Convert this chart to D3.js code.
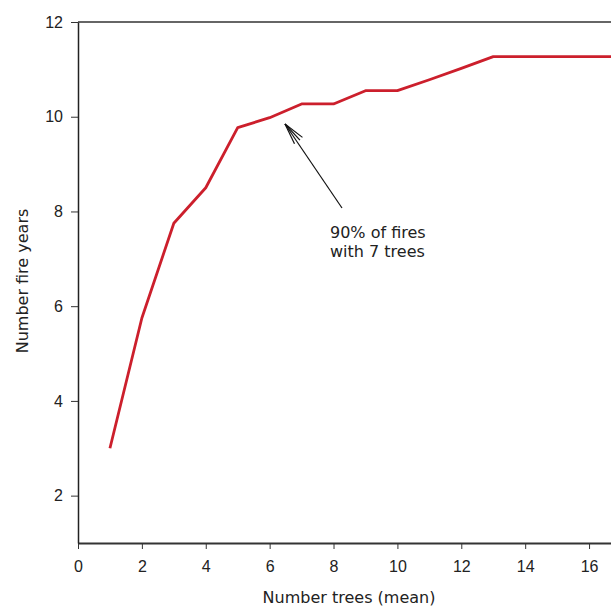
<!DOCTYPE html>
<html>
<head>
<meta charset="utf-8">
<script src="https://cdn.jsdelivr.net/npm/d3@7"></script>
<style>
  html, body { margin: 0; padding: 0; background: #fff; }
  svg { display: block; }
</style>
</head>
<body>
<div id="chart"></div>
<script>
// Number of fire years recorded vs mean number of trees sampled
const treeCounts = [1, 2, 3, 4, 5, 6, 7, 8, 9, 10, 11, 12, 13, 14, 15, 16, 17];
const fireYears = [3, 5.75, 7.75, 8.5, 9.77, 9.98, 10.27, 10.27, 10.55, 10.55, 10.78, 11.02, 11.27, 11.27, 11.27, 11.27, 11.27];
const xTicks = [0, 2, 4, 6, 8, 10, 12, 14, 16];
const yTicks = [2, 4, 6, 8, 10, 12];
const annotationLines = ['90% of fires', 'with 7 trees'];

const width = 611, height = 608;
const margin = { top: 22, left: 78, bottom: 65 };

const svg = d3.select('#chart').append('svg')
    .attr('width', width)
    .attr('height', height);

// plot runs past the right edge of the picture (x up to 17)
const x = d3.scaleLinear().domain([0, 17]).range([margin.left, 621]);
const y = d3.scaleLinear().domain([1, 12]).range([height - margin.bottom, margin.top]);

const tickFont = '"Liberation Sans", Arial, sans-serif';
const titleFont = '"DejaVu Sans", sans-serif';

// top frame line
svg.append('line')
    .attr('x1', x(0)).attr('x2', x(17))
    .attr('y1', y(12)).attr('y2', y(12))
    .attr('stroke', '#333').attr('stroke-width', 1.5);

// x axis
const xAxis = svg.append('g')
    .attr('transform', `translate(0,${y(1)})`)
    .call(d3.axisBottom(x).tickValues(xTicks).tickSize(6).tickPadding(12).tickSizeOuter(0));
xAxis.select('.domain').attr('stroke', '#333').attr('stroke-width', 2);
xAxis.selectAll('.tick line').attr('stroke', '#333');
xAxis.selectAll('text').attr('font-family', tickFont).attr('font-size', 16).attr('fill', '#222');

// y axis
const yAxis = svg.append('g')
    .attr('transform', `translate(${x(0)},0)`)
    .call(d3.axisLeft(y).tickValues(yTicks).tickSize(7).tickPadding(8).tickSizeOuter(0));
yAxis.select('.domain').attr('stroke', '#222').attr('stroke-width', 1.5);
yAxis.selectAll('.tick line').attr('stroke', '#333');
yAxis.selectAll('text').attr('font-family', tickFont).attr('font-size', 16).attr('fill', '#222');

// axis titles
svg.append('text')
    .attr('x', 349).attr('y', 603)
    .attr('text-anchor', 'middle')
    .attr('font-family', titleFont).attr('font-size', 16).attr('fill', '#222')
    .text('Number trees (mean)');

svg.append('text')
    .attr('transform', 'translate(28,281) rotate(-90)')
    .attr('text-anchor', 'middle')
    .attr('font-family', titleFont).attr('font-size', 16).attr('fill', '#222')
    .text('Number fire years');

// the curve
const line = d3.line()
    .x((d, i) => x(treeCounts[i]))
    .y(d => y(d));

svg.append('path')
    .datum(fireYears)
    .attr('d', line)
    .attr('fill', 'none')
    .attr('stroke', '#cc1f2c')
    .attr('stroke-width', 2.8)
    .attr('stroke-linejoin', 'round');

// annotation arrow pointing at the curve near x = 6.5
const tip = [285, 124], tail = [342, 208];
const ang = Math.atan2(tail[1] - tip[1], tail[0] - tip[0]);
const arrow = svg.append('g').attr('stroke', '#111').attr('stroke-width', 1.2).attr('fill', 'none');
arrow.append('line')
    .attr('x1', tail[0]).attr('y1', tail[1])
    .attr('x2', tip[0]).attr('y2', tip[1]);
[-0.32, -0.15, 0.15].forEach(da => {
    const len = 22;
    arrow.append('line')
        .attr('x1', tip[0]).attr('y1', tip[1])
        .attr('x2', tip[0] + len * Math.cos(ang + da))
        .attr('y2', tip[1] + len * Math.sin(ang + da));
});

const note = svg.append('text')
    .attr('font-family', titleFont).attr('font-size', 16).attr('fill', '#222');
annotationLines.forEach((t, i) => {
    note.append('tspan').attr('x', 330).attr('y', 238 + i * 19).text(t);
});
</script>
</body>
</html>
